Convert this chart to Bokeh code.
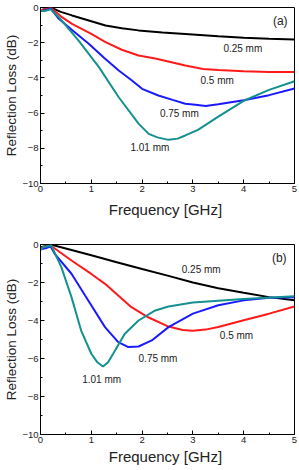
from bokeh.plotting import figure
from bokeh.layouts import column
from bokeh.models import SingleIntervalTicker, Range1d, Label
from bokeh.embed import file_html
from bokeh.resources import INLINE

FONT = "Liberation Sans"

# Panel (a): reflection loss vs frequency for four thicknesses
freq_a_025 = [0.0, 0.1, 0.2, 0.4, 0.62, 1.0, 1.28, 1.6, 1.93, 2.4, 2.85, 3.5, 4.0, 4.5, 5.0]
rl_a_025 = [-0.15, -0.08, 0.0, -0.25, -0.45, -0.78, -1.02, -1.18, -1.3, -1.42, -1.5, -1.63, -1.72, -1.78, -1.82]

freq_a_050 = [0.0, 0.1, 0.2, 0.4, 0.62, 1.0, 1.28, 1.6, 1.93, 2.26, 2.6, 2.85, 3.2, 3.5, 4.0, 4.5, 5.0]
rl_a_050 = [-0.15, -0.1, 0.0, -0.5, -0.93, -1.5, -1.97, -2.4, -2.73, -2.9, -3.12, -3.3, -3.5, -3.55, -3.62, -3.66, -3.67]

freq_a_075 = [0.0, 0.1, 0.2, 0.36, 0.65, 0.95, 1.25, 1.54, 1.8, 2.0, 2.32, 2.6, 2.85, 3.05, 3.25, 3.5, 4.0, 4.5, 5.0]
rl_a_075 = [-0.2, -0.15, -0.05, -0.64, -1.35, -2.06, -2.85, -3.58, -4.15, -4.62, -5.0, -5.25, -5.47, -5.52, -5.6, -5.5, -5.27, -4.98, -4.6]

freq_a_101 = [0.0, 0.1, 0.2, 0.36, 0.75, 1.15, 1.54, 1.93, 2.13, 2.3, 2.52, 2.7, 2.85, 3.1, 3.5, 4.0, 4.5, 5.0]
rl_a_101 = [-0.2, -0.18, -0.1, -0.55, -1.88, -3.39, -5.1, -6.6, -7.18, -7.38, -7.52, -7.45, -7.27, -6.95, -6.2, -5.3, -4.68, -4.19]

# Panel (b)
freq_b_025 = [0.0, 0.1, 0.2, 0.61, 1.0, 1.5, 2.0, 2.52, 3.0, 3.5, 4.0, 4.5, 5.0]
rl_b_025 = [-0.15, -0.08, 0.0, -0.29, -0.57, -0.93, -1.29, -1.65, -2.0, -2.3, -2.54, -2.77, -2.94]

freq_b_050 = [0.0, 0.1, 0.2, 0.61, 1.0, 1.27, 1.79, 2.12, 2.52, 2.8, 3.0, 3.25, 3.5, 4.0, 4.5, 5.0]
rl_b_050 = [-0.2, -0.12, -0.05, -0.84, -1.55, -2.07, -3.3, -3.83, -4.32, -4.5, -4.54, -4.48, -4.34, -3.99, -3.64, -3.26]

freq_b_075 = [0.0, 0.1, 0.2, 0.28, 0.61, 0.94, 1.27, 1.53, 1.73, 1.93, 2.19, 2.52, 3.0, 3.5, 4.0, 4.5, 5.0]
rl_b_075 = [-0.25, -0.2, -0.1, -0.49, -1.54, -2.95, -4.35, -5.14, -5.4, -5.37, -5.05, -4.35, -3.64, -3.2, -2.94, -2.8, -2.77]

freq_b_101 = [0.0, 0.05, 0.21, 0.41, 0.61, 0.8, 1.0, 1.12, 1.23, 1.33, 1.43, 1.66, 1.93, 2.26, 2.52, 3.0, 4.0, 5.0]
rl_b_101 = [-0.3, -0.14, -0.04, -1.19, -2.77, -4.53, -5.75, -6.2, -6.42, -6.2, -5.75, -4.7, -4.0, -3.47, -3.26, -3.05, -2.87, -2.72]

thickness_labels = ["0.25 mm", "0.5 mm", "0.75 mm", "1.01 mm"]
colors = ["#000000", "#ff1a1a", "#1a1aff", "#159090"]


def make_panel(series, label_pos, tag, tag_pos, frame_h, top, bottom, xlabel_gap):
    p = figure(width=299, height=top + frame_h + bottom, frame_width=254, frame_height=frame_h,
               output_backend="svg", toolbar_location=None,
               x_range=Range1d(0, 5), y_range=Range1d(-10, 0),
               min_border_left=40, min_border_right=5, min_border_top=top, min_border_bottom=bottom)
    p.xgrid.visible = False
    p.ygrid.visible = False
    p.outline_line_color = "#000000"
    p.outline_line_width = 1
    p.background_fill_color = "white"
    p.border_fill_color = "white"

    p.xaxis.ticker = SingleIntervalTicker(interval=1, num_minor_ticks=2)
    p.yaxis.ticker = SingleIntervalTicker(interval=2, num_minor_ticks=2)
    for ax in (p.xaxis[0], p.yaxis[0]):
        ax.major_tick_in = 4
        ax.major_tick_out = 0
        ax.minor_tick_in = 2
        ax.minor_tick_out = 0
        ax.axis_line_color = "#000000"
        ax.major_label_text_font = FONT
        ax.major_label_text_font_size = "9.5px"
        ax.major_label_text_color = "#222222"
        ax.axis_label_text_font = FONT
        ax.axis_label_text_font_style = "normal"
        ax.axis_label_text_color = "#222222"
        ax.major_label_standoff = 2
    p.xaxis.axis_label = "Frequency  [GHz]"
    p.xaxis.axis_label_text_font_size = "15px"
    p.xaxis.axis_label_standoff = xlabel_gap
    p.yaxis.axis_label = "Reflection Loss (dB)"
    p.yaxis.axis_label_text_font_size = "13.5px"
    p.yaxis.axis_label_standoff = 0

    for (xs, ys), c in zip(series, colors):
        p.line(xs, ys, line_color=c, line_width=2)

    for text, (lx, ly) in zip(thickness_labels, label_pos):
        p.add_layout(Label(x=lx, y=ly, text=text, text_font=FONT, text_font_size="10px",
                           text_color="#222222", text_baseline="middle"))
    p.add_layout(Label(x=tag_pos[0], y=tag_pos[1], text=tag, text_font=FONT, text_font_size="12px",
                       text_color="#222222", text_align="center", text_baseline="middle"))
    return p


pa = make_panel(
    [(freq_a_025, rl_a_025), (freq_a_050, rl_a_050), (freq_a_075, rl_a_075), (freq_a_101, rl_a_101)],
    [(3.6, -2.33), (3.15, -4.15), (2.35, -6.0), (1.77, -7.95)],
    "(a)", (4.72, -0.74), 176, 7, 52, 6)

pb = make_panel(
    [(freq_b_025, rl_b_025), (freq_b_050, rl_b_050), (freq_b_075, rl_b_075), (freq_b_101, rl_b_101)],
    [(2.78, -1.32), (3.53, -4.8), (1.93, -6.0), (0.82, -7.1)],
    "(b)", (4.7, -0.7), 190, 9, 36, 2)

layout = column(pa, pb, spacing=0)
open("out.html", "w").write(file_html(layout, INLINE))
